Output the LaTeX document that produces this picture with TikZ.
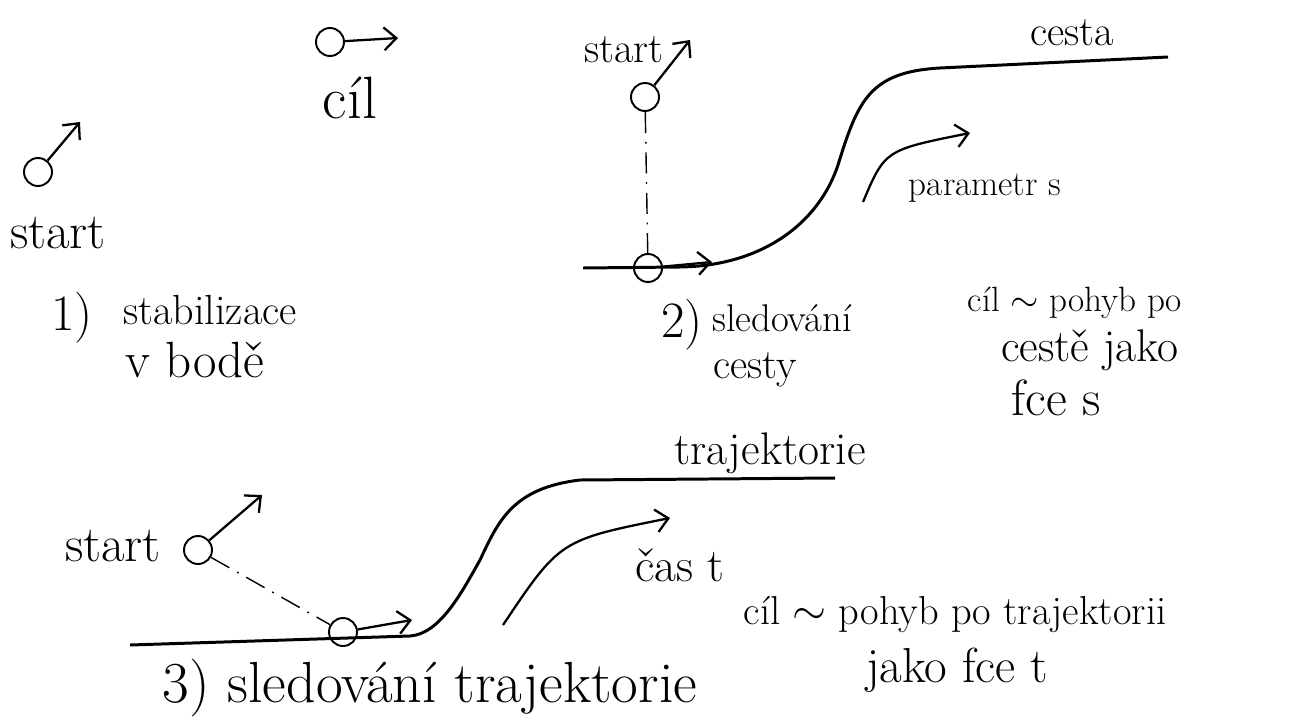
\documentclass[tikz,border=0pt]{standalone}
\usepackage{amssymb}
\usepackage{amsmath}
\usepackage{tikz}
\usetikzlibrary{calc, arrows, arrows.meta}
\tikzset{
    robot/.style={draw, circle, line width=1.1pt, minimum size=0.56cm, inner sep=0pt},
    hand/.style={font=\fontsize{24}{28}\selectfont, inner sep=0pt},
    handS/.style={font=\fontsize{20}{24}\selectfont, inner sep=0pt},
    handL/.style={font=\fontsize{29}{34}\selectfont, inner sep=0pt},
    road/.style={line width=1.7pt},
    heading/.style={line width=1.3pt, ->, >={Straight Barb[length=7pt, width=13pt]}},
    link/.style={line width=0.8pt, dash pattern=on 12pt off 5pt on 1pt off 5pt}
}

\begin{document}
\begin{tikzpicture}[x=0.02cm, y=-0.02cm]
        \useasboundingbox (0,0) rectangle (1293,723);
        % 1) stabilizace v bode
        \node[robot] (startA) at (38,172) {};
        \coordinate (headA) at (80,122);
        \draw[heading] (startA) -- (headA);
        \node[handL] (startAtxt) at (58,233) {start};
        \node[robot] (cilA) at (330,42) {};
        \coordinate (goA) at (398,38);
        \draw[heading] (cilA) -- (goA);
        \node[handL, font=\fontsize{34}{40}\selectfont] (cilAtxt) at (350,98) {cíl};
        \node[handL] (numA) at (72,318) {1)};
        \node[hand] (stabA) at (210,310) {stabilizace};
        \node[handL] (bodA) at (195,360) {v bodě};
        % 2) sledovani cesty
        \coordinate (pathB0) at (583,268);
        \coordinate (pathB1) at (680,267);
        \coordinate (pathB2) at (838,165);
        \coordinate (pathB3) at (940,68);
        \coordinate (pathB4) at (1168,57);
        \draw[road] (pathB0) -- (pathB1) .. controls (760,266) and (818,225) .. (pathB2)
            .. controls (858,100) and (870,72) .. (pathB3) -- (pathB4);
        \node[hand] (cestaB) at (1072,33) {cesta};
        \node[robot] (startB) at (645,97) {};
        \coordinate (headB) at (690,40);
        \draw[heading] (startB) -- (headB);
        \node[hand] (startBtxt) at (624,50) {start};
        \node[robot] (cilB) at (648,268) {};
        \coordinate (goB) at (712,262);
        \draw[heading] (cilB) -- (goB);
        \draw[link] (startB) -- (cilB);
        \coordinate (parB0) at (863,202);
        \coordinate (parB1) at (970,133);
        \draw[heading] (parB0) .. controls (885,150) .. (parB1);
        \node[handS] (parBtxt) at (985,188) {parametr s};
        \node[handL] (numB) at (682,325) {2)};
        \node[handS, font=\fontsize{22}{26}\selectfont] (sledB) at (782,318) {sledování};
        \node[hand] (cestyB) at (755,370) {cesty};
        \node[handS] (cilBtxt) at (1075,303) {cíl $\sim$ pohyb po};
        \node[hand, font=\fontsize{26}{30}\selectfont] (cesteB) at (1090,350) {cestě jako};
        \node[handL] (fceB) at (1056,398) {fce s};
        % 3) sledovani trajektorie
        \coordinate (pathC0) at (130,645);
        \coordinate (pathC1) at (410,636);
        \coordinate (pathC2) at (480,560);
        \coordinate (pathC3) at (580,480);
        \coordinate (pathC4) at (835,478);
        \draw[road] (pathC0) -- (pathC1) .. controls (440,634) and (462,592) .. (pathC2)
            .. controls (498,522) and (512,488) .. (pathC3) -- (pathC4);
        \node[hand, font=\fontsize{26}{30}\selectfont] (trajC) at (770,453) {trajektorie};
        \node[robot] (startC) at (198,550) {};
        \coordinate (headC) at (262,495);
        \draw[heading] (startC) -- (headC);
        \node[handL] (startCtxt) at (113,546) {start};
        \node[robot] (cilC) at (343,632) {};
        \coordinate (goC) at (412,620);
        \draw[heading] (cilC) -- (goC);
        \draw[link] (startC) -- (cilC);
        \coordinate (casC0) at (503,625);
        \coordinate (casC1) at (670,518);
        \draw[heading] (casC0) .. controls (560,540) .. (casC1);
        \node[hand, font=\fontsize{27}{32}\selectfont] (casCtxt) at (680,565) {čas t};
        \node[handL, font=\fontsize{33}{38}\selectfont] (sledC) at (430,688) {3) sledování trajektorie};
        \node[handS, font=\fontsize{23}{27}\selectfont] (cilCtxt) at (955,615) {cíl $\sim$ pohyb po trajektorii};
        \node[hand, font=\fontsize{28}{32}\selectfont] (jakoC) at (957,670) {jako fce t};
    \end{tikzpicture}
\end{document}
